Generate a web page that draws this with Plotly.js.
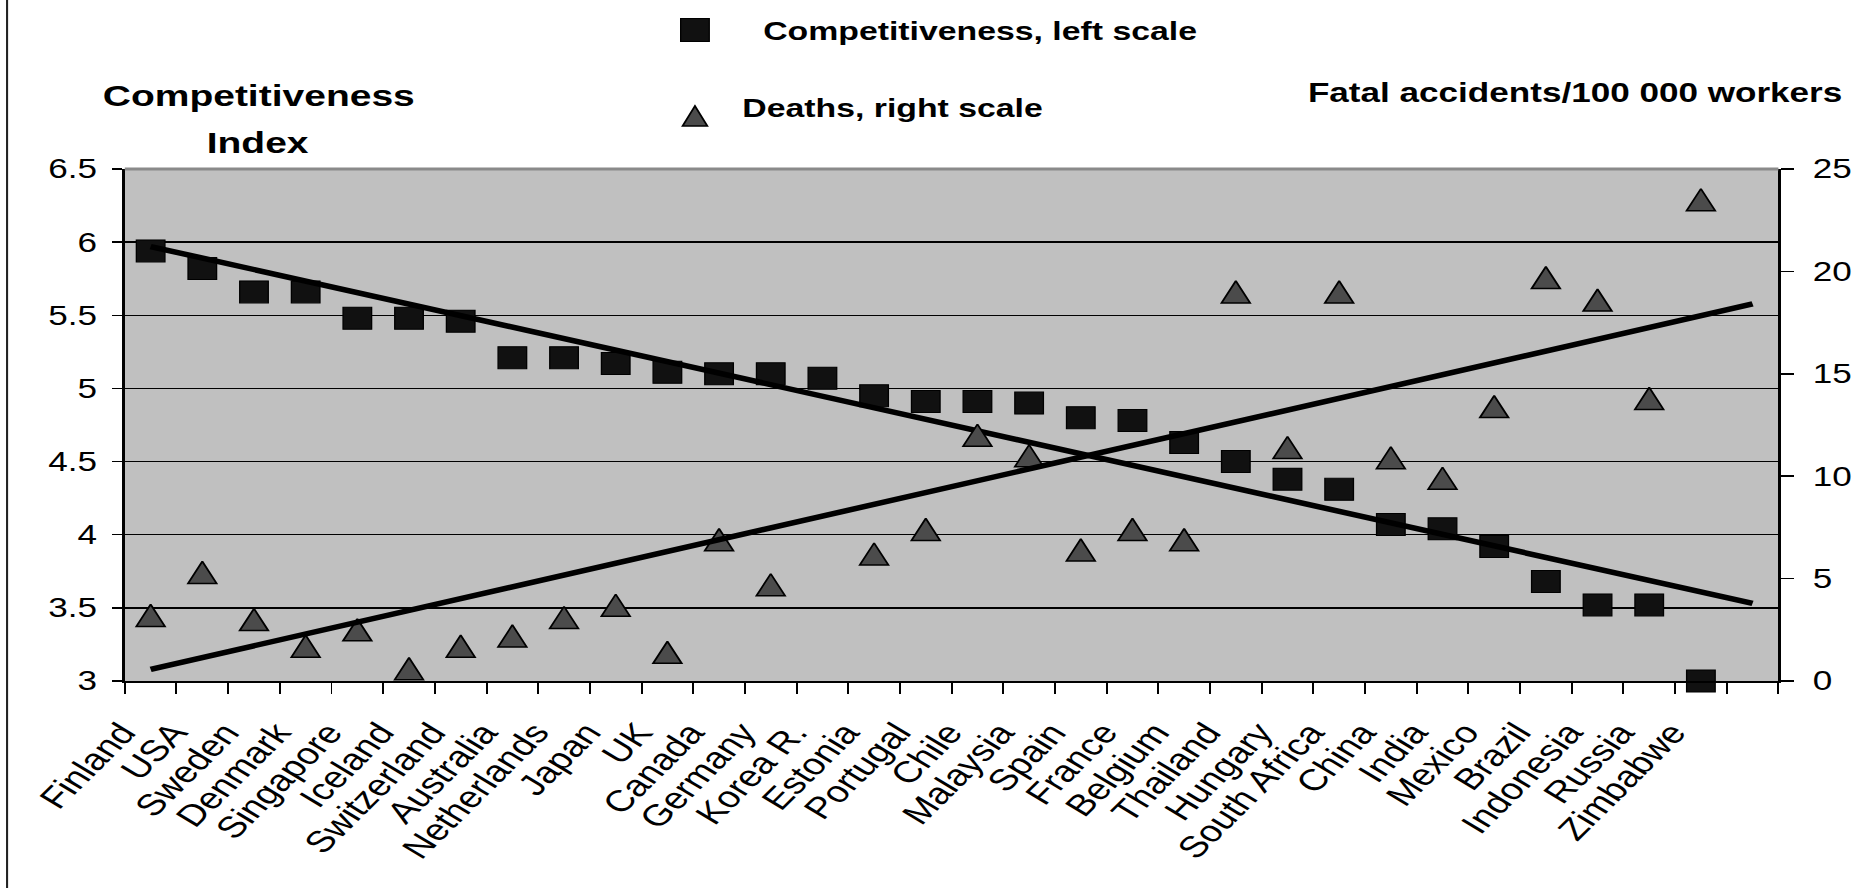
<!DOCTYPE html>
<html>
<head>
<meta charset="utf-8">
<script src="https://cdn.plot.ly/plotly-3.0.1.min.js"></script>
<style>
  html, body { margin: 0; padding: 0; background: #ffffff; overflow: hidden; }
  #wrap { width: 1854px; height: 888px; overflow: hidden; position: relative; }
  #chart { width: 1426px; height: 888px; transform: scale(1.3, 1); transform-origin: 0 0; }
</style>
</head>
<body>
<div id="wrap"><div id="chart"></div></div>
<script>
// ---- data ----
var countries = ['Finland','USA','Sweden','Denmark','Singapore','Iceland','Switzerland','Australia',
  'Netherlands','Japan','UK','Canada','Germany','Korea R.','Estonia','Portugal','Chile','Malaysia',
  'Spain','France','Belgium','Thailand','Hungary','South Africa','China','India','Mexico','Brazil',
  'Indonesia','Russia','Zimbabwe'];

var competitiveness = [5.94,5.82,5.66,5.66,5.48,5.48,5.46,5.21,5.21,5.17,5.11,5.10,5.10,5.07,4.95,4.91,
  4.91,4.90,4.80,4.78,4.63,4.50,4.38,4.31,4.07,4.04,3.92,3.68,3.52,3.52,3.00];

var deaths = [3.2,5.3,3.0,1.7,2.5,0.6,1.7,2.2,3.1,3.7,1.4,6.9,4.7,null,6.2,7.4,
  12.0,11.0,6.4,7.4,6.9,19.0,11.4,19.0,10.9,9.9,13.4,19.7,18.6,13.8,23.5];

// trend line end points (first category slot and the empty slot after Zimbabwe)
var trendSlots = [0, 31];
var competitivenessTrend = [5.97, 3.53];
var deathsTrend = [0.57, 18.41];

var leftTicks = [3, 3.5, 4, 4.5, 5, 5.5, 6, 6.5];
var rightTicks = [0, 5, 10, 15, 20, 25];

var legendNames = ['Competitiveness, left scale', 'Deaths, right scale'];
var leftTitleLines = ['Competitiveness', 'Index'];
var rightTitle = 'Fatal accidents/100 000 workers';

// ---- build ----
var FONT = 'Arial, "Liberation Sans", sans-serif';
var xIdx = countries.map(function (c, i) { return i; });
var slotCount = countries.length + 1;
var boundaries = [];
for (var b = 0; b <= slotCount; b++) boundaries.push(b - 0.5);

var traces = [
  {
    type: 'scatter', mode: 'markers', name: legendNames[0],
    x: xIdx, y: competitiveness, xaxis: 'x', yaxis: 'y',
    cliponaxis: false, showlegend: false,
    marker: { symbol: 'square', size: 22, color: '#111111', line: { color: '#000000', width: 1 } }
  },
  {
    type: 'scatter', mode: 'markers', name: legendNames[1],
    x: xIdx, y: deaths, xaxis: 'x', yaxis: 'y2',
    cliponaxis: false, showlegend: false,
    marker: { symbol: 'arrow-down', angle: 180, standoff: 11, size: 22, color: '#4b4b4b',
              line: { color: '#000000', width: 1.5 } }
  },
  {
    type: 'scatter', mode: 'lines', name: 'Competitiveness trend',
    x: trendSlots, y: competitivenessTrend, xaxis: 'x', yaxis: 'y', showlegend: false,
    line: { color: '#000000', width: 5.5 }
  },
  {
    type: 'scatter', mode: 'lines', name: 'Deaths trend',
    x: trendSlots, y: deathsTrend, xaxis: 'x', yaxis: 'y2', showlegend: false,
    line: { color: '#000000', width: 5.5 }
  }
];

var layout = {
  width: 1426, height: 888,
  margin: { l: 96, r: 58, t: 169, b: 207, pad: 0 },
  paper_bgcolor: '#ffffff',
  plot_bgcolor: '#c0c0c0',
  showlegend: false,
  font: { family: FONT, color: '#000000', size: 26 },
  xaxis: {
    range: [-0.5, slotCount - 0.5],
    tickmode: 'array', tickvals: xIdx, ticktext: countries,
    ticks: '', tickangle: -52, tickfont: { family: FONT, size: 30, color: '#000' },
    ticklabelstandoff: 20, ticklabelshift: -22,
    showgrid: false, zeroline: false,
    showline: true, linecolor: '#000000', linewidth: 2,
    minor: { tickmode: 'array', tickvals: boundaries, ticks: 'outside', ticklen: 11,
             tickwidth: 1.5, tickcolor: '#000000', showgrid: false },
    fixedrange: true
  },
  yaxis: {
    range: [3, 6.5], tickmode: 'array', tickvals: leftTicks,
    ticks: 'outside', ticklen: 8, tickwidth: 1.5, tickcolor: '#000000',
    ticklabelstandoff: 6,
    tickfont: { family: FONT, size: 27, color: '#000' },
    showgrid: true, gridcolor: '#000000', gridwidth: 1.3,
    zeroline: false, showline: true, linecolor: '#000000', linewidth: 2,
    fixedrange: true
  },
  yaxis2: {
    range: [0, 25], tickmode: 'array', tickvals: rightTicks,
    overlaying: 'y', side: 'right', anchor: 'x',
    ticks: 'outside', ticklen: 10, tickwidth: 1.5, tickcolor: '#000000',
    ticklabelstandoff: 9,
    tickfont: { family: FONT, size: 27, color: '#000' },
    showgrid: false, zeroline: false, showline: true, linecolor: '#000000', linewidth: 2,
    fixedrange: true
  },
  yaxis3: {
    range: [0, 25], tickmode: 'array', tickvals: rightTicks,
    overlaying: 'y', side: 'right', anchor: 'x',
    ticks: 'inside', ticklen: 9, tickwidth: 1.5, tickcolor: '#000000',
    showticklabels: false, showgrid: false, zeroline: false, showline: false,
    fixedrange: true
  },
  shapes: [
    { type: 'line', xref: 'paper', yref: 'paper', x0: 0, x1: 1, y0: 1, y1: 1,
      line: { color: '#8a8a8a', width: 3 }, layer: 'above' },
    { type: 'line', xref: 'paper', yref: 'paper', x0: -0.0712, x1: -0.0712, y0: -0.5, y1: 1.5,
      line: { color: '#222222', width: 1.6 } },
    { type: 'rect', xref: 'paper', yref: 'paper', xsizemode: 'pixel', ysizemode: 'pixel',
      xanchor: 0.3448, yanchor: 1.2715, x0: -11, x1: 11, y0: -11.5, y1: 11.5,
      fillcolor: '#111111', line: { color: '#000000', width: 1 } },
    { type: 'path', xref: 'paper', yref: 'paper', xsizemode: 'pixel', ysizemode: 'pixel',
      xanchor: 0.3448, yanchor: 1.1035, path: 'M -9.5 -10 L 9.5 -10 L 0 10 Z',
      fillcolor: '#4b4b4b', line: { color: '#000000', width: 1.5 } }
  ],
  annotations: [
    { xref: 'paper', yref: 'paper', x: 0.3841, y: 1.2695, xanchor: 'left', yanchor: 'middle',
      showarrow: false, text: '<b>' + legendNames[0] + '</b>', font: { family: FONT, size: 26, color: '#000' } },
    { xref: 'paper', yref: 'paper', x: 0.3720, y: 1.1199, xanchor: 'left', yanchor: 'middle',
      showarrow: false, text: '<b>' + legendNames[1] + '</b>', font: { family: FONT, size: 26, color: '#000' } },
    { xref: 'paper', yref: 'paper', x: 0.0808, y: 1.1426, xanchor: 'center', yanchor: 'middle',
      showarrow: false, text: '<b>' + leftTitleLines[0] + '</b>', font: { family: FONT, size: 30, color: '#000' } },
    { xref: 'paper', yref: 'paper', x: 0.0808, y: 1.0518, xanchor: 'center', yanchor: 'middle',
      showarrow: false, text: '<b>' + leftTitleLines[1] + '</b>', font: { family: FONT, size: 30, color: '#000' } },
    { xref: 'paper', yref: 'paper', x: 0.8770, y: 1.1494, xanchor: 'center', yanchor: 'middle',
      showarrow: false, text: '<b>' + rightTitle + '</b>', font: { family: FONT, size: 27, color: '#000' } }
  ]
};

Plotly.newPlot('chart', traces, layout, { staticPlot: true, displayModeBar: false, responsive: false });
</script>
</body>
</html>
